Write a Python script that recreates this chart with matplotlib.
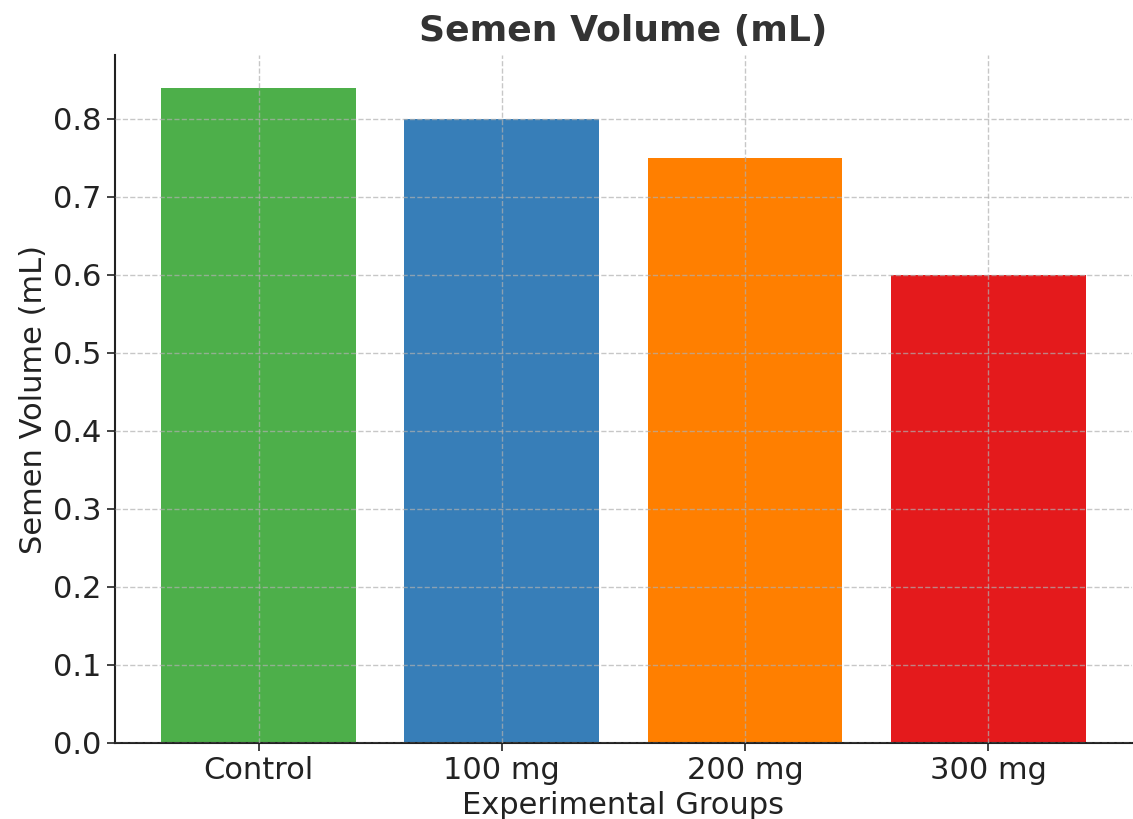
import matplotlib.pyplot as plt

groups = ["Control", "100 mg", "200 mg", "300 mg"]
volume = [0.84, 0.80, 0.75, 0.60]
colors = ["#4daf4a", "#377eb8", "#ff7f00", "#e41a1c"]

plt.rcParams["font.family"] = "DejaVu Sans"

fig, ax = plt.subplots(figsize=(11.33, 8.19), dpi=100)
fig.subplots_adjust(left=0.1015, right=0.999, bottom=0.0928, top=0.9328)

ax.bar(groups, volume, color=colors, width=0.8)

ax.set_title("Semen Volume (mL)", fontsize=26, fontweight="bold", color="#333333", pad=10)
ax.set_xlabel("Experimental Groups", fontsize=22, color="#222222", labelpad=4)
ax.set_ylabel("Semen Volume (mL)", fontsize=22, color="#222222")
ax.tick_params(labelsize=22, colors="#222222", length=6, width=1.2)

ax.grid(True, linestyle="--", color="#b0b0b0", alpha=0.7, linewidth=1)
ax.set_axisbelow(False)
for side in ["top", "right"]:
    ax.spines[side].set_visible(False)
for side in ["left", "bottom"]:
    ax.spines[side].set_linewidth(1.5)
    ax.spines[side].set_color("#222222")

plt.savefig("out.png", dpi=100)
